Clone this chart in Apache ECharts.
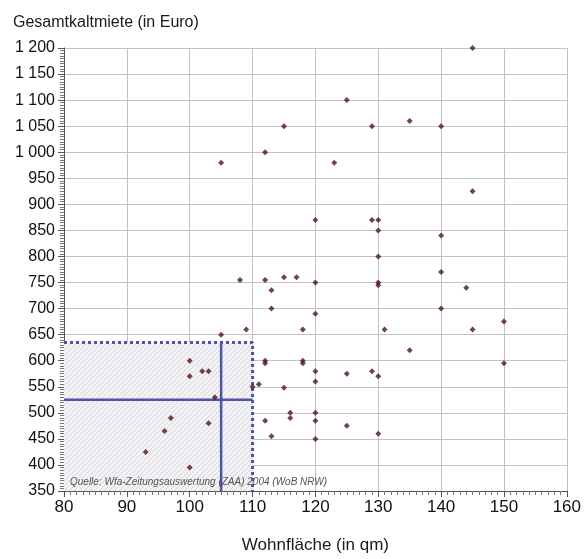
<!DOCTYPE html>
<html>
<head>
<meta charset="utf-8">
<script src="https://cdn.jsdelivr.net/npm/echarts@6/dist/echarts.min.js"></script>
<style>
  html, body { margin: 0; padding: 0; background: #fff; }
  #main { width: 584px; height: 559px; }
</style>
</head>
<body>
<div id="main"></div>
<script>
// Wohnfläche (qm) und Gesamtkaltmiete (Euro) der Wohnungsangebote
var flaeche = [93, 96, 97, 100, 100, 100, 102, 103, 103, 104, 105, 105, 108, 109, 110, 111,
    112, 112, 112, 112, 112, 113, 113, 113, 115, 115, 115, 116, 116, 117, 118, 118, 118,
    120, 120, 120, 120, 120, 120, 120, 120, 123, 125, 125, 125, 129, 129, 129,
    130, 130, 130, 130, 130, 130, 130, 131, 135, 135, 140, 140, 140, 140, 144, 145, 145, 145, 150, 150];
var miete = [425, 465, 490, 395, 570, 600, 580, 580, 480, 530, 650, 980, 755, 660, 550, 555,
    600, 595, 485, 755, 1000, 735, 700, 455, 548, 760, 1050, 500, 490, 760, 660, 600, 595,
    870, 750, 690, 580, 560, 500, 485, 450, 980, 1100, 575, 475, 1050, 870, 580,
    870, 850, 800, 750, 745, 570, 460, 660, 1060, 620, 1050, 840, 770, 700, 740, 1200, 925, 660, 675, 595];

// Median-Markierung und oberer Rand der Vergleichsfläche
var medianFlaeche = 105;
var medianMiete = 525;
var grenzeFlaeche = 110;
var grenzeMiete = 635;

var xTicks = [80, 160, 10];
var yTicks = [350, 1200, 50];

var punkte = [];
for (var i = 0; i < flaeche.length; i++) {
    punkte.push([flaeche[i], miete[i]]);
}

// Schraffur für die graue Fläche
var muster = document.createElement('canvas');
muster.width = 5;
muster.height = 5;
var ctx = muster.getContext('2d');
ctx.fillStyle = '#f3f3f5';
ctx.fillRect(0, 0, 5, 5);
ctx.strokeStyle = '#d6d6dc';
ctx.lineWidth = 1;
ctx.beginPath();
ctx.moveTo(0, 5);
ctx.lineTo(5, 0);
ctx.stroke();

var blau = '#4f52aa';
var schrift = 'Liberation Sans';

var chart = echarts.init(document.getElementById('main'));

var option = {
    backgroundColor: '#ffffff',
    animation: false,
    title: {
        text: 'Gesamtkaltmiete (in Euro)',
        left: 8,
        top: 10,
        textStyle: { fontFamily: schrift, fontSize: 16, fontWeight: 'normal', color: '#1a1a1a' }
    },
    grid: { left: 64, right: 16, top: 48, bottom: 68 },
    xAxis: {
        type: 'value',
        min: xTicks[0],
        max: xTicks[1],
        interval: xTicks[2],
        name: 'Wohnfläche (in qm)',
        nameLocation: 'middle',
        nameGap: 46,
        nameTextStyle: { fontFamily: schrift, fontSize: 17, color: '#1a1a1a' },
        axisLine: { lineStyle: { color: '#555', width: 1 } },
        axisTick: { show: true, length: 6, lineStyle: { color: '#555' } },
        minorTick: { show: true, splitNumber: 10, length: 4, lineStyle: { color: '#777' } },
        axisLabel: { fontFamily: schrift, fontSize: 17, color: '#111', margin: 8 },
        splitLine: { show: true, lineStyle: { color: '#c2c2c2', width: 1 } }
    },
    yAxis: {
        type: 'value',
        min: yTicks[0],
        max: yTicks[1],
        interval: yTicks[2],
        axisLine: { show: true, lineStyle: { color: '#555', width: 1 } },
        axisTick: { show: true, length: 6, lineStyle: { color: '#555' } },
        minorTick: { show: true, splitNumber: 10, length: 4, lineStyle: { color: '#777' } },
        axisLabel: {
            fontFamily: schrift, fontSize: 16, color: '#111', margin: 9,
            formatter: function (v) {
                return v >= 1000 ? Math.floor(v / 1000) + ' ' + String(v % 1000).padStart(3, '0') : String(v);
            }
        },
        splitLine: { show: true, lineStyle: { color: '#c2c2c2', width: 1 } }
    },
    graphic: [{
        type: 'text',
        left: 70,
        top: 477,
        z: 10,
        style: {
            text: 'Quelle: Wfa-Zeitungsauswertung (ZAA) 2004 (WoB NRW)',
            fontFamily: schrift,
            fontSize: 10,
            fontStyle: 'italic',
            fill: '#555'
        }
    }],
    series: [
        {
            type: 'line',
            data: [[xTicks[0], grenzeMiete], [grenzeFlaeche, grenzeMiete], [grenzeFlaeche, yTicks[0]]],
            symbol: 'none',
            z: 3,
            lineStyle: { color: blau, width: 3, type: [3, 3] },
            markArea: {
                silent: true,
                itemStyle: { color: { image: muster, repeat: 'repeat' } },
                data: [[{ coord: [xTicks[0], yTicks[0]] }, { coord: [grenzeFlaeche, grenzeMiete] }]]
            }
        },
        {
            type: 'line',
            data: [[xTicks[0], medianMiete], [grenzeFlaeche, medianMiete]],
            symbol: 'none',
            z: 3,
            lineStyle: { color: blau, width: 2.5 }
        },
        {
            type: 'line',
            data: [[medianFlaeche, yTicks[0]], [medianFlaeche, grenzeMiete]],
            symbol: 'none',
            z: 3,
            lineStyle: { color: blau, width: 2.5 }
        },
        {
            type: 'scatter',
            data: punkte,
            symbol: 'diamond',
            symbolSize: 6,
            z: 5,
            itemStyle: { color: '#4e1520' }
        }
    ]
};

chart.setOption(option);
</script>
</body>
</html>
